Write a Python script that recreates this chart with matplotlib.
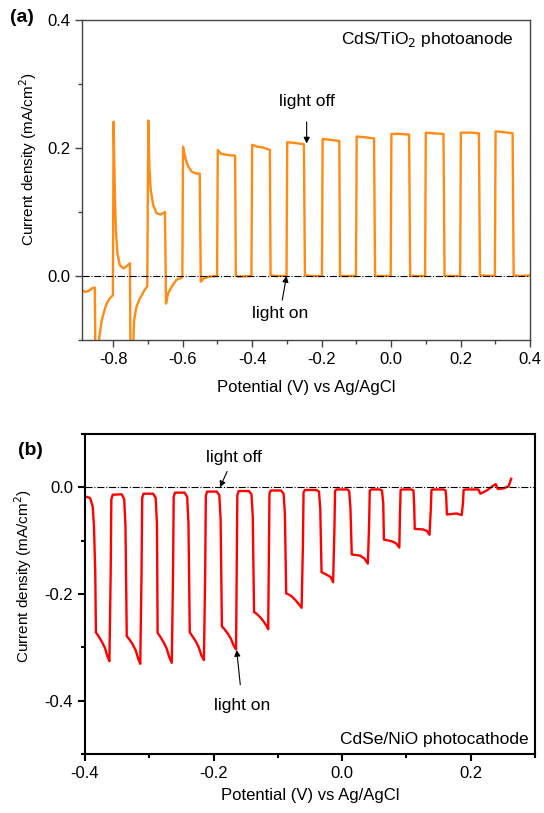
import matplotlib
matplotlib.use('Agg')
import matplotlib.pyplot as plt
from matplotlib.ticker import MultipleLocator

plt.rcParams['font.family'] = ['Liberation Sans', 'DejaVu Sans']
plt.rcParams['axes.unicode_minus'] = False

# ---- panel (a): CdS/TiO2 photoanode, chopped light scan ----
a_pot = [-0.890, -0.880, -0.870, -0.860, -0.853,
         -0.851, -0.845, -0.840, -0.833, -0.826, -0.819, -0.810, -0.801,
         -0.799, -0.795, -0.792, -0.788, -0.781, -0.771, -0.762, -0.752,
         -0.750, -0.745, -0.740, -0.733, -0.725, -0.718, -0.710, -0.702,
         -0.699, -0.696, -0.692, -0.685, -0.675, -0.664, -0.651,
         -0.648, -0.642, -0.632, -0.618, -0.601,
         -0.599, -0.594, -0.589, -0.584, -0.574, -0.560, -0.551,
         -0.548, -0.540, -0.525, -0.501,
         -0.499, -0.490, -0.470, -0.449, -0.447, -0.440, -0.402,
         -0.400, -0.385, -0.370, -0.349, -0.347, -0.330, -0.301,
         -0.299, -0.280, -0.251, -0.248, -0.230, -0.199,
         -0.197, -0.180, -0.149, -0.147, -0.101,
         -0.099, -0.080, -0.049, -0.046, -0.001,
         0.001, 0.020, 0.052, 0.055, 0.098,
         0.100, 0.120, 0.151, 0.154, 0.199,
         0.201, 0.230, 0.253, 0.256, 0.299,
         0.301, 0.320, 0.350, 0.353, 0.370, 0.400]
a_cur = [-0.022, -0.025, -0.023, -0.019, -0.018,
         -0.150, -0.150, -0.095, -0.069, -0.055, -0.043, -0.035, -0.030,
         0.241, 0.119, 0.067, 0.036, 0.017, 0.012, 0.015, 0.020,
         -0.150, -0.150, -0.069, -0.048, -0.037, -0.030, -0.022, -0.016,
         0.243, 0.171, 0.134, 0.111, 0.098, 0.096, 0.100,
         -0.043, -0.027, -0.017, -0.006, -0.002,
         0.202, 0.189, 0.178, 0.171, 0.163, 0.160, 0.160,
         -0.009, -0.004, -0.001, 0.000,
         0.197, 0.191, 0.189, 0.188, 0.001, -0.001, 0.000,
         0.205, 0.202, 0.201, 0.197, 0.001, 0.000, 0.000,
         0.209, 0.208, 0.206, 0.001, 0.000, 0.000,
         0.214, 0.213, 0.211, 0.000, 0.000,
         0.218, 0.217, 0.215, 0.000, 0.000,
         0.222, 0.222, 0.221, 0.000, 0.000,
         0.224, 0.223, 0.222, 0.000, 0.000,
         0.224, 0.224, 0.223, 0.001, 0.000,
         0.226, 0.225, 0.223, 0.001, 0.000, 0.001]

# ---- panel (b): CdSe/NiO photocathode ----
b_pot = [-0.400, -0.392, -0.388, -0.386, -0.384, -0.383, -0.379, -0.374, -0.369, -0.365, -0.362, -0.360, -0.359, -0.357,
         -0.343, -0.339, -0.337, -0.336, -0.335, -0.331, -0.326, -0.321, -0.317, -0.314, -0.312, -0.311, -0.309,
         -0.294, -0.290, -0.288, -0.287, -0.283, -0.278, -0.273, -0.269, -0.265, -0.263, -0.262, -0.260,
         -0.245, -0.241, -0.239, -0.237, -0.233, -0.228, -0.223, -0.219, -0.215, -0.213, -0.212, -0.210,
         -0.195, -0.191, -0.189, -0.187, -0.183, -0.178, -0.173, -0.169, -0.165, -0.164, -0.163, -0.161,
         -0.145, -0.141, -0.139, -0.137, -0.133, -0.128, -0.123, -0.118, -0.115, -0.114, -0.113, -0.111,
         -0.095, -0.091, -0.089, -0.087, -0.083, -0.078, -0.073, -0.068, -0.063, -0.061, -0.060, -0.058,
         -0.040, -0.036, -0.034, -0.032, -0.024, -0.018, -0.014, -0.012, -0.011, -0.009,
         0.008, 0.011, 0.013, 0.015, 0.028, 0.035, 0.040, 0.042, 0.043, 0.045,
         0.059, 0.062, 0.064, 0.065, 0.077, 0.084, 0.089, 0.090, 0.091, 0.093,
         0.108, 0.111, 0.112, 0.113, 0.126, 0.132, 0.136, 0.138, 0.139, 0.141,
         0.158, 0.161, 0.162, 0.163, 0.178, 0.186, 0.188, 0.189, 0.192,
         0.212, 0.215, 0.225, 0.235, 0.239, 0.242, 0.251, 0.259, 0.263]
b_cur = [-0.017, -0.020, -0.036, -0.073, -0.160, -0.272, -0.279, -0.289, -0.301, -0.317, -0.326, -0.160, -0.023, -0.014,
         -0.013, -0.022, -0.073, -0.180, -0.279, -0.285, -0.294, -0.306, -0.322, -0.331, -0.160, -0.020, -0.012,
         -0.012, -0.020, -0.070, -0.273, -0.280, -0.290, -0.302, -0.318, -0.329, -0.160, -0.018, -0.010,
         -0.010, -0.018, -0.068, -0.272, -0.279, -0.288, -0.300, -0.315, -0.324, -0.160, -0.016, -0.008,
         -0.008, -0.015, -0.060, -0.261, -0.266, -0.274, -0.284, -0.296, -0.304, -0.150, -0.015, -0.007,
         -0.007, -0.013, -0.055, -0.234, -0.237, -0.243, -0.250, -0.259, -0.266, -0.130, -0.012, -0.006,
         -0.006, -0.012, -0.050, -0.199, -0.201, -0.205, -0.211, -0.218, -0.226, -0.110, -0.010, -0.005,
         -0.005, -0.008, -0.040, -0.159, -0.164, -0.168, -0.178, -0.080, -0.007, -0.004,
         -0.004, -0.007, -0.040, -0.126, -0.128, -0.134, -0.143, -0.070, -0.006, -0.004,
         -0.004, -0.006, -0.030, -0.098, -0.101, -0.105, -0.113, -0.050, -0.005, -0.004,
         -0.004, -0.006, -0.030, -0.078, -0.079, -0.082, -0.089, -0.040, -0.005, -0.004,
         -0.004, -0.006, -0.020, -0.051, -0.049, -0.052, -0.030, -0.005, -0.004,
         -0.004, -0.012, -0.006, 0.003, 0.006, -0.003, -0.002, 0.002, 0.016]

fig = plt.figure(figsize=(5.44, 8.13), dpi=100)
ax1 = fig.add_axes([0.1507, 0.5818, 0.8235, 0.3936])
ax2 = fig.add_axes([0.1562, 0.0726, 0.8272, 0.3936])

fs = 12      # tick labels / x labels
fa = 12.5    # annotations

# panel (a)
ax1.plot(a_pot, a_cur, color='#ff8a14', lw=1.7)
ax1.axhline(0, color='black', lw=0.8, ls='-.')
ax1.set_xlim(-0.89, 0.40)
ax1.set_ylim(-0.1, 0.4)
ax1.xaxis.set_major_locator(MultipleLocator(0.2))
ax1.xaxis.set_minor_locator(MultipleLocator(0.1))
ax1.yaxis.set_major_locator(MultipleLocator(0.2))
ax1.yaxis.set_minor_locator(MultipleLocator(0.1))
ax1.set_xlabel('Potential (V) vs Ag/AgCl', fontsize=fs)
ax1.xaxis.set_label_coords(0.5, -0.125)
ax1.set_ylabel('Current density (mA/cm$^2$)', fontsize=11)
ax1.yaxis.set_label_coords(-0.097, 0.566)
ax1.text(0.965, 0.94, 'CdS/TiO$_2$ photoanode', transform=ax1.transAxes,
         ha='right', va='center', fontsize=fa)
ax1.annotate('light off', xy=(-0.243, 0.207), xytext=(-0.243, 0.272),
             ha='center', va='center', fontsize=fa,
             arrowprops=dict(arrowstyle='-|>', color='black', lw=0.8,
                             mutation_scale=9, shrinkA=7, shrinkB=0))
ax1.annotate('light on', xy=(-0.301, 0.0), xytext=(-0.32, -0.058),
             ha='center', va='center', fontsize=fa,
             arrowprops=dict(arrowstyle='-|>', color='black', lw=0.8,
                             mutation_scale=9, shrinkA=2, shrinkB=0))
fig.text(22 / 544, 1 - 17 / 813, '(a)', fontsize=14, fontweight='bold',
         ha='center', va='center')

# panel (b)
ax2.plot(b_pot, b_cur, color='#ff0000', lw=1.7)
ax2.axhline(0, color='black', lw=0.8, ls='-.')
ax2.set_xlim(-0.40, 0.30)
ax2.set_ylim(-0.5, 0.1)
ax2.xaxis.set_major_locator(MultipleLocator(0.2))
ax2.xaxis.set_minor_locator(MultipleLocator(0.1))
ax2.yaxis.set_major_locator(MultipleLocator(0.2))
ax2.yaxis.set_minor_locator(MultipleLocator(0.1))
ax2.set_xlabel('Potential (V) vs Ag/AgCl', fontsize=fs)
ax2.xaxis.set_label_coords(0.5, -0.105)
ax2.set_ylabel('Current density (mA/cm$^2$)', fontsize=11)
ax2.yaxis.set_label_coords(-0.113, 0.556)
ax2.text(0.985, 0.045, 'CdSe/NiO photocathode', transform=ax2.transAxes,
         ha='right', va='center', fontsize=fa)
ax2.annotate('light off', xy=(-0.19, 0.0), xytext=(-0.169, 0.056),
             ha='center', va='center', fontsize=fa,
             arrowprops=dict(arrowstyle='-|>', color='black', lw=0.8,
                             mutation_scale=9, shrinkA=3, shrinkB=0))
ax2.annotate('light on', xy=(-0.164, -0.305), xytext=(-0.155, -0.41),
             ha='center', va='center', fontsize=fa,
             arrowprops=dict(arrowstyle='-|>', color='black', lw=0.8,
                             mutation_scale=9, shrinkA=8, shrinkB=0))
fig.text(30 / 544, 1 - 450 / 813, '(b)', fontsize=14, fontweight='bold',
         ha='center', va='center')

for ax, sc, slw in [(ax1, '#444444', 1.0), (ax2, 'black', 1.5)]:
    for s in ax.spines.values():
        s.set_color(sc)
        s.set_linewidth(slw)
    ax.tick_params(which='both', direction='out', top=False, right=False,
                   labelsize=fs, color=sc, width=slw)
    ax.tick_params(which='major', length=5)
    ax.tick_params(which='minor', length=3)

fig.savefig('out.png', dpi=100)
